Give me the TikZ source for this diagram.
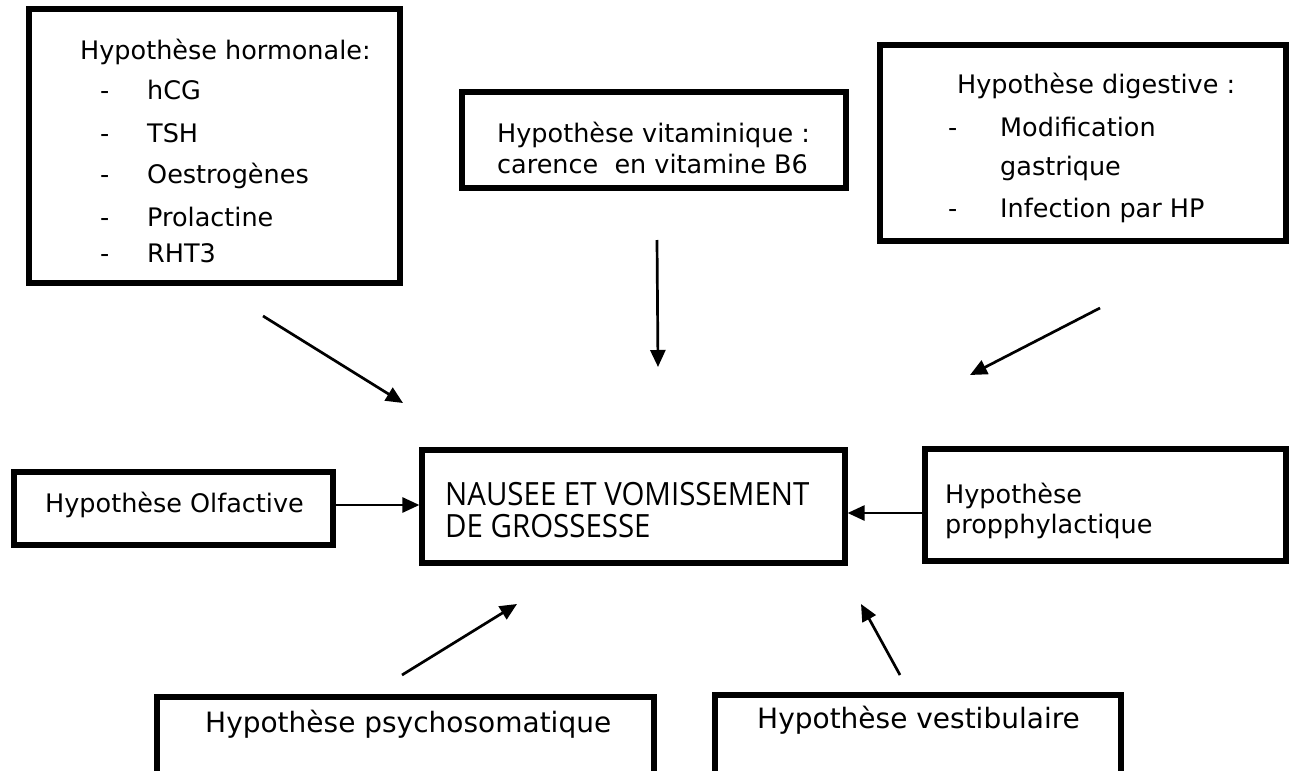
\documentclass[tikz,border=0pt]{standalone}
\usepackage{fontspec}
\setmainfont{DejaVu Sans}
\newfontfamily\nfont[FakeStretch=0.92]{Open Sans}
\usetikzlibrary{arrows.meta}
\begin{document}
\begin{tikzpicture}[x=1pt,y=-1pt,
  box/.style={draw, line width=5.2pt, inner sep=0pt},
  txt/.style={anchor=base west, inner sep=0pt, font=\fontsize{25.5}{30}\selectfont},
  bigtxt/.style={anchor=base west, inner sep=0pt, font=\fontsize{28}{34}\selectfont},
  ntxt/.style={anchor=base west, inner sep=0pt, font=\nfont\fontsize{32}{38}\selectfont},
  arr/.style={line width=2.7pt, -{Triangle[length=17pt,width=15pt]}}]
\useasboundingbox (0,0) rectangle (1291,771);
\clip (0,0) rectangle (1291,771);
% boxes
\node[box, minimum width=371pt, minimum height=274pt] (hor) at (214.5,146) {};
\node[box, minimum width=384pt, minimum height=96pt] (vit) at (654,140) {};
\node[box, minimum width=406pt, minimum height=196pt] (dig) at (1083,143) {};
\node[box, minimum width=319pt, minimum height=73pt] (olf) at (173.5,508.5) {};
\node[box, minimum width=423pt, minimum height=113pt] (nau) at (633.5,506.5) {};
\node[box, minimum width=361pt, minimum height=112pt] (pro) at (1105.5,505) {};
\node[box, minimum width=497pt, minimum height=103pt] (psy) at (405.5,748.5) {};
\node[box, minimum width=406pt, minimum height=105pt] (ves) at (918,747.5) {};
% texts
\node[txt] (horT) at (80,59) {Hypothèse hormonale:};
\node[txt] (horD1) at (100,99) {-};
\node[txt] (horI1) at (147,99) {hCG};
\node[txt] (horD2) at (100,142) {-};
\node[txt] (horI2) at (147,142) {TSH};
\node[txt] (horD3) at (100,183) {-};
\node[txt] (horI3) at (147,183) {Oestrogènes};
\node[txt] (horD4) at (100,226) {-};
\node[txt] (horI4) at (147,226) {Prolactine};
\node[txt] (horD5) at (100,262) {-};
\node[txt] (horI5) at (147,262) {RHT3};
\node[txt] (vitT1) at (497,142) {Hypothèse vitaminique :};
\node[txt] (vitT2) at (497,173) {carence\ \ en vitamine B6};
\node[txt] (digT) at (957,93) {Hypothèse digestive :};
\node[txt] (digD1) at (948,136) {-};
\node[txt] (digI1) at (1000,136) {Modification};
\node[txt] (digI1b) at (1000,175) {gastrique};
\node[txt] (digD2) at (948,217) {-};
\node[txt] (digI2) at (1000,217) {Infection par HP};
\node[txt] (olfT) at (45,512) {Hypothèse Olfactive};
\node[ntxt] (nauT1) at (445,505) {NAUSEE ET VOMISSEMENT};
\node[ntxt] (nauT2) at (445,537) {DE GROSSESSE};
\node[txt] (proT1) at (945,503) {Hypothèse};
\node[txt] (proT2) at (945,533) {propphylactique};
\node[bigtxt] (psyT) at (205,732) {Hypothèse psychosomatique};
\node[bigtxt] (vesT) at (757,728) {Hypothèse vestibulaire};
% connectors
\coordinate (hA) at (263,316); \coordinate (hB) at (403,403);
\coordinate (vA) at (657,240); \coordinate (vB) at (658,367);
\coordinate (dA) at (1100,308); \coordinate (dB) at (970,375);
\coordinate (pA) at (402,675); \coordinate (pB) at (517,604);
\coordinate (sA) at (900,675); \coordinate (sB) at (861,604);
\coordinate (oy) at (0,505); \coordinate (ry) at (0,513);
\draw[arr] (hA) -- (hB);
\draw[arr] (vA) -- (vB);
\draw[arr] (dA) -- (dB);
\draw[arr] (pA) -- (pB);
\draw[arr] (sA) -- (sB);
\draw[arr] (olf.east |- oy) -- (nau.west |- oy);
\draw[arr] (pro.west |- ry) -- (nau.east |- ry);
\end{tikzpicture}
\end{document}
